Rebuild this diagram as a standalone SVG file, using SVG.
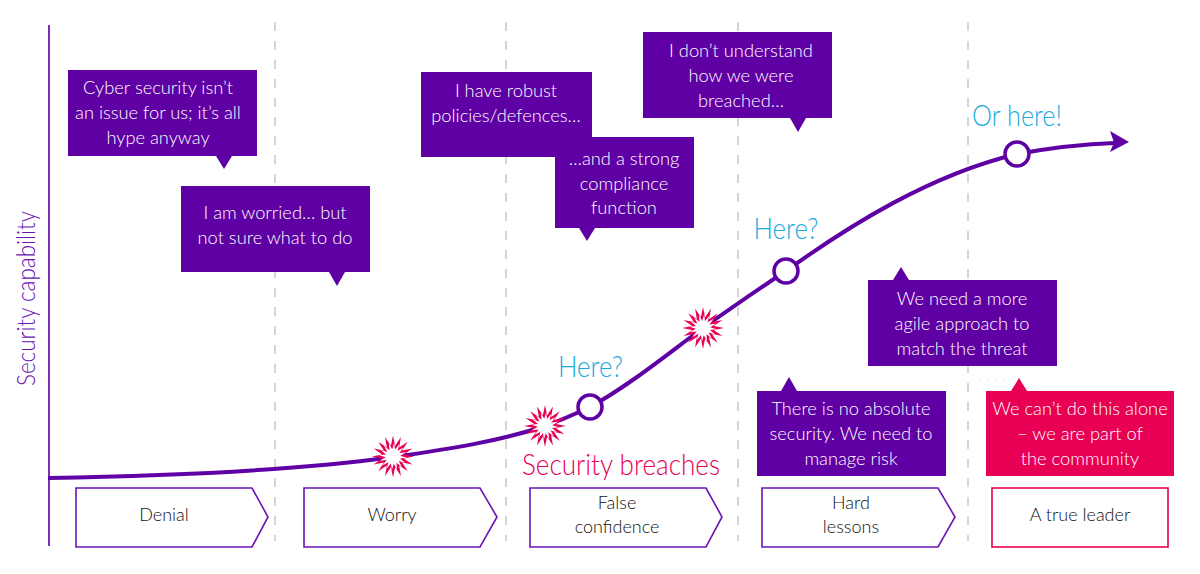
<svg xmlns="http://www.w3.org/2000/svg" width="1200" height="574" viewBox="0 0 1200 574">
<style>
text{font-family:"Lato","Noto Sans","Liberation Sans",sans-serif;font-weight:300;text-anchor:middle}
.c{fill:#5f00a5}
.cr{fill:#e80054}
.ct{fill:#fff;font-size:18.300px}
.st{fill:#111;font-size:18px}
.b{fill:#fff;stroke:#6a14b4;stroke-width:1.6}
.d{stroke:#c8c8c8;stroke-width:1.5;stroke-dasharray:9 10;fill:none}
.q{fill:#1aa9e0;font-size:29px}
.dot{fill:#fff;stroke:#5f00a5;stroke-width:3.5}
</style>
<defs>
<polygon id="burst" points="21,0 10.8,2.100 19.400,8 9.100,6.100 14.800,14.800 6.100,9.100 8,19.400 2.100,10.800 0,21 -2.100,10.800 -8,19.400 -6.100,9.100 -14.800,14.800 -9.100,6.100 -19.400,8 -10.800,2.100 -21,0 -10.800,-2.100 -19.400,-8 -9.100,-6.100 -14.800,-14.800 -6.100,-9.100 -8,-19.400 -2.100,-10.800 0,-21 2.100,-10.800 8,-19.400 6.100,-9.100 14.800,-14.800 9.100,-6.100 19.400,-8 10.800,-2.100"/>
</defs>
<rect width="1200" height="574" fill="#fff"/>
<g id="grid">
<line class="d" x1="275" y1="22" x2="275" y2="541"/>
<line class="d" x1="506" y1="22" x2="506" y2="541"/>
<line class="d" x1="738" y1="22" x2="738" y2="541"/>
<line class="d" x1="968" y1="22" x2="968" y2="541"/>
</g>
<g id="connectors">
<line x1="49" y1="25" x2="49" y2="546" stroke="#7a2cbc" stroke-width="2"/>
<path d="M48 478C170 476 300 470 393 457C450 449 500 441 545 426C562 420 575 414 590 407C630 385 670 352 703 328C730 309 760 288 786 271C850 225 930 175 1017 154C1050 148 1085 144 1115 143" fill="none" stroke="#5f00a5" stroke-width="4"/>
<polygon class="c" points="1129,142 1110,131 1114,142.500 1110,152"/>
<path d="M980 380H1006" stroke="#d8cce8" stroke-width="1" stroke-dasharray="1 7"/>
</g>
<g id="axis-label"><text transform="translate(35 298.500) rotate(-90)" font-size="25" fill="#6a14b4" textLength="175" lengthAdjust="spacingAndGlyphs">Security capability</text></g>
<g id="breach-1"><use href="#burst" transform="translate(393 456.500)" fill="#e80054"/><use href="#burst" transform="translate(393 456.500) rotate(5) scale(.66)" fill="#fff"/></g>
<g id="breach-2"><use href="#burst" transform="translate(545 426)" fill="#e80054"/><use href="#burst" transform="translate(545 426) rotate(5) scale(.66)" fill="#fff"/></g>
<g id="breach-3"><use href="#burst" transform="translate(703 328)" fill="#e80054"/><use href="#burst" transform="translate(703 328) rotate(5) scale(.66)" fill="#fff"/></g>
<g id="marker-1"><circle class="dot" cx="590" cy="407" r="12"/><text class="q" x="590.500" y="377" textLength="65" lengthAdjust="spacingAndGlyphs">Here?</text></g>
<g id="marker-2"><circle class="dot" cx="786" cy="271" r="12"/><text class="q" x="786" y="239" textLength="65" lengthAdjust="spacingAndGlyphs">Here?</text></g>
<g id="marker-3"><circle class="dot" cx="1017" cy="154" r="12"/><text class="q" x="1017" y="126" textLength="90" lengthAdjust="spacingAndGlyphs">Or here!</text></g>
<g id="breach-label"><text x="621" y="475" font-size="29" fill="#e80054" textLength="198" lengthAdjust="spacingAndGlyphs">Security breaches</text></g>
<g id="callout-1"><path class="c" d="M68 70H257V156H232L224 169L216 156H68Z"/><text class="ct" x="158" y="94">Cyber security isn’t</text><text class="ct" x="158" y="119">an issue for us; it’s all</text><text class="ct" x="158" y="144">hype anyway</text></g>
<g id="callout-2"><path class="c" d="M181 186H370V272H345L337 286L329 272H181Z"/><text class="ct" x="275" y="219">I am worried… but</text><text class="ct" x="275" y="244">not sure what to do</text></g>
<g id="callout-3"><rect class="c" x="421" y="72" width="171" height="85"/><text class="ct" x="506" y="97">I have robust</text><text class="ct" x="506" y="122">policies/defences…</text></g>
<g id="callout-4"><path class="c" d="M555 137H694V228H595L587 241L579 228H555Z"/><text class="ct" x="624" y="165">…and a strong</text><text class="ct" x="624" y="190">compliance</text><text class="ct" x="624" y="214">function</text></g>
<g id="callout-5"><path class="c" d="M643 32H832V118H806L798 132L790 118H643Z"/><text class="ct" x="741" y="57">I don’t understand</text><text class="ct" x="741" y="82">how we were</text><text class="ct" x="741" y="107">breached…</text></g>
<g id="callout-6"><path class="c" d="M868 280H893L901 267L909 280H1057V366H868Z"/><text class="ct" x="962" y="305">We need a more</text><text class="ct" x="962" y="330">agile approach to</text><text class="ct" x="962" y="355">match the threat</text></g>
<g id="callout-7"><path class="c" d="M757 391H781L789 377L797 391H946V476H757Z"/><text class="ct" x="851" y="415">There is no absolute</text><text class="ct" x="851" y="440">security. We need to</text><text class="ct" x="851" y="465">manage risk</text></g>
<g id="callout-8"><path class="cr" d="M986 391H1011L1019 378L1027 391H1174V476H986Z"/><text class="ct" x="1080" y="415">We can’t do this alone</text><text class="ct" x="1080" y="440">– we are part of</text><text class="ct" x="1080" y="465">the community</text></g>
<g id="stage-denial"><polygon class="b" points="76,488 252,488 268,517 252,547 76,547"/><text class="st" x="164" y="521">Denial</text></g>
<g id="stage-worry"><polygon class="b" points="304,488 480,488 497,517 480,547 304,547"/><text class="st" x="392" y="521">Worry</text></g>
<g id="stage-false"><polygon class="b" points="530,488 706,488 722,517 706,547 530,547"/><text class="st" x="617" y="509">False</text><text class="st" x="617" y="533">confidence</text></g>
<g id="stage-hard"><polygon class="b" points="762,488 938,488 955,517 938,547 762,547"/><text class="st" x="851" y="509">Hard</text><text class="st" x="851" y="533">lessons</text></g>
<g id="stage-leader"><rect x="992" y="488" width="176" height="59" fill="#fff" stroke="#e80054" stroke-width="1.6"/><text class="st" x="1080" y="521">A true leader</text></g>
</svg>
